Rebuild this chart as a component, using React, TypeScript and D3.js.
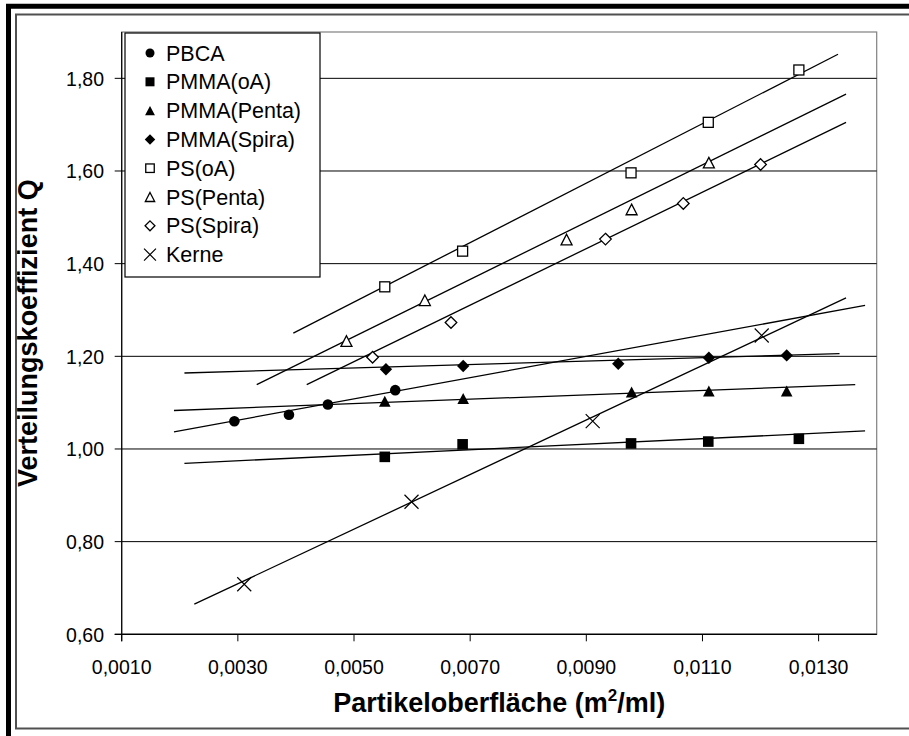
import React from "react";
import * as d3 from "d3";

const xTickValues = [0.001, 0.003, 0.005, 0.007, 0.009, 0.011, 0.013];
const yTickValues = [0.6, 0.8, 1.0, 1.2, 1.4, 1.6, 1.8];

const pbcaX = [0.00294, 0.00388, 0.00455, 0.00571];
const pbcaY = [1.06, 1.074, 1.096, 1.127];
const pmmaOaX = [0.00553, 0.00687, 0.00977, 0.0111, 0.01266];
const pmmaOaY = [0.983, 1.01, 1.012, 1.016, 1.022];
const pmmaPentaX = [0.00553, 0.00688, 0.00978, 0.01111, 0.01245];
const pmmaPentaY = [1.103, 1.109, 1.123, 1.125, 1.125];
const pmmaSpiraX = [0.00555, 0.00688, 0.00955, 0.01111, 0.01245];
const pmmaSpiraY = [1.172, 1.179, 1.184, 1.197, 1.202];
const psOaX = [0.00553, 0.00687, 0.00977, 0.0111, 0.01266];
const psOaY = [1.35, 1.427, 1.596, 1.705, 1.818];
const psPentaX = [0.00487, 0.00622, 0.00866, 0.00978, 0.01111];
const psPentaY = [1.233, 1.321, 1.452, 1.517, 1.618];
const psSpiraX = [0.00532, 0.00667, 0.00933, 0.01067, 0.012];
const psSpiraY = [1.198, 1.273, 1.453, 1.53, 1.614];
const kerneX = [0.00311, 0.00599, 0.00911, 0.01202];
const kerneY = [0.708, 0.886, 1.06, 1.245];

// trend lines: [x0, y0, x1, y1]
const pbcaTrend = [0.0019, 1.037, 0.0138, 1.31];
const pmmaOaTrend = [0.00208, 0.969, 0.0138, 1.039];
const pmmaPentaTrend = [0.0019, 1.083, 0.01363, 1.139];
const pmmaSpiraTrend = [0.00208, 1.164, 0.01336, 1.206];
const psOaTrend = [0.003955, 1.25, 0.013334, 1.852];
const psPentaTrend = [0.003325, 1.139, 0.013472, 1.766];
const psSpiraTrend = [0.004186, 1.139, 0.013472, 1.705];
const kerneTrend = [0.00225, 0.665, 0.013472, 1.326];

const seriesNames = ["PBCA", "PMMA(oA)", "PMMA(Penta)", "PMMA(Spira)", "PS(oA)", "PS(Penta)", "PS(Spira)", "Kerne"];
const seriesMarkers = ["circle", "square", "triangle", "diamond", "squareOpen", "triangleOpen", "diamondOpen", "cross"];
const seriesXs = [pbcaX, pmmaOaX, pmmaPentaX, pmmaSpiraX, psOaX, psPentaX, psSpiraX, kerneX];
const seriesYs = [pbcaY, pmmaOaY, pmmaPentaY, pmmaSpiraY, psOaY, psPentaY, psSpiraY, kerneY];
const seriesTrends = [pbcaTrend, pmmaOaTrend, pmmaPentaTrend, pmmaSpiraTrend, psOaTrend, psPentaTrend, psSpiraTrend, kerneTrend];

const FONT = "'Liberation Sans', Arial, sans-serif";
const L = 121.7, R = 876.7, T = 32, B = 634.3;

const fmtX = (v: number) => v.toFixed(4).replace(".", ",");
const fmtY = (v: number) => v.toFixed(2).replace(".", ",");

function Marker({ kind, cx, cy, s }: { kind: string; cx: number; cy: number; s: number }) {
  const sw = 1.3;
  switch (kind) {
    case "circle":
      return <circle cx={cx} cy={cy} r={5.3 * s} fill="#000" />;
    case "square":
      return <rect x={cx - 5.3 * s} y={cy - 5.3 * s} width={10.6 * s} height={10.6 * s} fill="#000" />;
    case "squareOpen":
      return <rect x={cx - 5 * s} y={cy - 5 * s} width={10 * s} height={10 * s} fill="#fff" stroke="#000" strokeWidth={sw} />;
    case "triangle": {
      const w = 5.8 * s, h = 5.5 * s;
      return <path d={`M${cx},${cy - h}L${cx + w},${cy + h}L${cx - w},${cy + h}Z`} fill="#000" />;
    }
    case "triangleOpen": {
      const w = 5.5 * s, h = 5.3 * s;
      return <path d={`M${cx},${cy - h}L${cx + w},${cy + h}L${cx - w},${cy + h}Z`} fill="#fff" stroke="#000" strokeWidth={sw} />;
    }
    case "diamond": {
      const w = 6.2 * s;
      return <path d={`M${cx},${cy - w}L${cx + w},${cy}L${cx},${cy + w}L${cx - w},${cy}Z`} fill="#000" />;
    }
    case "diamondOpen": {
      const w = 5.8 * s;
      return <path d={`M${cx},${cy - w}L${cx + w},${cy}L${cx},${cy + w}L${cx - w},${cy}Z`} fill="#fff" stroke="#000" strokeWidth={sw} />;
    }
    case "cross": {
      const w = 7 * s;
      return <path d={`M${cx - w},${cy - w}L${cx + w},${cy + w}M${cx + w},${cy - w}L${cx - w},${cy + w}`} fill="none" stroke="#000" strokeWidth={1.2} />;
    }
  }
  return null;
}

export default function App() {
  const x = d3.scaleLinear().domain([0.001, 0.014]).range([L, R]);
  const y = d3.scaleLinear().domain([0.6, 1.9]).range([B, T]);
  const line = d3.line<[number, number]>().x((d) => x(d[0])).y((d) => y(d[1]));

  const legendX = 125, legendY = 33, legendW = 195, legendH = 244;
  const rowY0 = 53, rowDy = 28.8;

  return (
    <svg width={909} height={736} style={{ position: "absolute", left: 0, top: 0, background: "#fff" }} fontFamily={FONT}>
      <rect x={0} y={0} width={909} height={736} fill="#fff" />
      {/* outer frame */}
      <path d="M8.5,736V6.2H909" fill="none" stroke="#000" strokeWidth={5} />
      <path d="M909,14.5H16V728.5H909" fill="none" stroke="#505050" strokeWidth={2} />

      {/* plot border */}
      <rect x={L} y={T} width={R - L} height={B - T} fill="#fff" stroke="#808080" strokeWidth={1.2} />

      {/* gridlines */}
      {yTickValues.map((v) => (
        <line key={"g" + v} x1={L} x2={R} y1={y(v)} y2={y(v)} stroke="#000" strokeWidth={1} />
      ))}

      {/* axes */}
      <line x1={L} x2={L} y1={T} y2={B + 7} stroke="#000" strokeWidth={1.2} />
      <line x1={L - 7} x2={R} y1={B} y2={B} stroke="#000" strokeWidth={1.2} />
      {yTickValues.map((v) => (
        <g key={"yt" + v}>
          <line x1={L - 7} x2={L} y1={y(v)} y2={y(v)} stroke="#000" strokeWidth={1} />
          <text x={104} y={y(v) + 7.2} textAnchor="end" fontSize={19.5} fill="#000">{fmtY(v)}</text>
        </g>
      ))}
      {xTickValues.map((v) => (
        <g key={"xt" + v}>
          <line x1={x(v)} x2={x(v)} y1={B} y2={B + 7} stroke="#000" strokeWidth={1} />
          <text x={x(v)} y={673.5} textAnchor="middle" fontSize={19.5} fill="#000">{fmtX(v)}</text>
        </g>
      ))}

      {/* trend lines */}
      {seriesTrends.map((t, i) => (
        <path key={"tr" + i} d={line([[t[0], t[1]], [t[2], t[3]]]) || ""} fill="none" stroke="#000" strokeWidth={1.3} />
      ))}

      {/* markers */}
      {seriesXs.map((xs, i) =>
        xs.map((xv, j) => (
          <Marker key={`m${i}-${j}`} kind={seriesMarkers[i]} cx={x(xv)} cy={y(seriesYs[i][j])} s={1} />
        ))
      )}

      {/* legend */}
      <rect x={legendX} y={legendY} width={legendW} height={legendH} fill="#fff" stroke="#000" strokeWidth={1.2} />
      {seriesNames.map((name, i) => (
        <g key={"lg" + i}>
          <Marker kind={seriesMarkers[i]} cx={150} cy={rowY0 + i * rowDy} s={0.85} />
          <text x={166} y={rowY0 + i * rowDy + 7.6} fontSize={21.5} fill="#000">{name}</text>
        </g>
      ))}

      {/* axis titles */}
      <text x={(L + R) / 2} y={712} textAnchor="middle" fontSize={27} fontWeight="bold" fill="#000">
        Partikeloberfläche (m<tspan fontSize={17} dy={-11}>2</tspan><tspan dy={11}>/ml)</tspan>
      </text>
      <text transform={`translate(37,${(T + B) / 2}) rotate(-90)`} textAnchor="middle" fontSize={27} fontWeight="bold" fill="#000">
        Verteilungskoeffizient Q
      </text>
    </svg>
  );
}
